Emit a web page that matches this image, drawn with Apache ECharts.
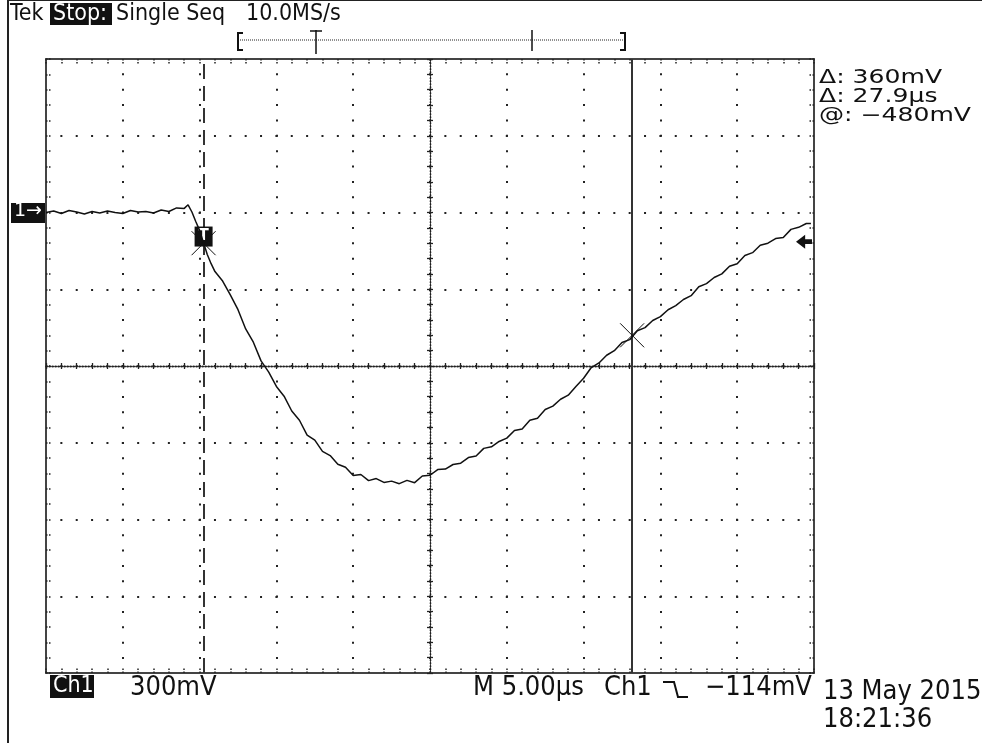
<!DOCTYPE html>
<html>
<head>
<meta charset="utf-8">
<script src="https://cdn.jsdelivr.net/npm/echarts@6/dist/echarts.min.js"></script>
<style>
    html, body { margin: 0; padding: 0; background: #fff; }
    #scope { width: 982px; height: 743px; }
</style>
</head>
<body>
<div id="scope"></div>
<script>
// time in µs (5 µs/div, 10 div)
const timeUs = [
    0, 0.5, 1, 1.5, 2, 2.5, 3, 3.5, 4, 4.5, 5, 5.5, 6, 6.5, 7, 7.5, 8, 8.5, 9, 9.25, 9.5, 9.75,
    10, 10.25, 10.5, 10.75, 11, 11.5, 12, 12.5, 13, 13.5, 14, 14.5, 15, 15.5, 16, 16.5, 17, 17.5,
    18, 18.5, 19, 19.5, 20, 20.5, 21, 21.5, 22, 22.5, 23, 23.5, 24, 24.5, 25, 25.5, 26, 26.5,
    27, 27.5, 28, 28.5, 29, 29.5, 30, 30.5, 31, 31.5, 32, 32.5, 33, 33.5, 34, 34.5, 35, 35.5,
    36, 36.5, 37, 37.5, 38, 38.5, 39, 39.5, 40, 40.5, 41, 41.5, 42, 42.5, 43, 43.5, 44, 44.5,
    45, 45.5, 46, 46.5, 47, 47.5, 48, 48.5, 49, 49.5, 49.8,
];
// Ch1 in mV relative to the "1→" ground marker (300 mV/div)
const ch1mV = [
    0, 6, -4, 8, 2, -6, 4, -2, 6, 0, -4, 8, 2, 4, -2, 10, 4, 18, 16, 30, 2, -35,
    -70, -117, -164, -200, -231, -268, -322, -380, -455, -507, -580, -624, -680, -718, -776, -812, -870, -890,
    -934, -950, -984, -996, -1028, -1024, -1048, -1040, -1055, -1050, -1060, -1047, -1056, -1030, -1027, -1005, -1003, -985,
    -980, -958, -952, -922, -916, -895, -882, -852, -846, -812, -804, -770, -757, -730, -714, -680, -648, -606,
    -588, -558, -540, -508, -497, -462, -450, -422, -407, -380, -364, -340, -325, -290, -278, -254, -240, -210,
    -200, -168, -157, -128, -120, -102, -98, -66, -58, -43, -43,
];
// cursors: [time µs, level mV]
const cursorA = [10.26, -120];
const cursorB = [38.16, -480];
const triggerLevel = -114;
const readouts = ["Δ: 360mV", "Δ: 27.9µs", "@: −480mV"];

const ink = "#111";
const gridInk = "#222";
const narrow = "'Liberation Sans Narrow', 'DejaVu Sans Condensed', sans-serif";
const wide = "'DejaVu Sans', sans-serif";

const dotted = { color: gridInk, width: 2, type: [2, 13.36], dashOffset: 1 };

const borderAxis = (extra) => Object.assign({
    type: "value",
    axisLine: { show: true, onZero: false, lineStyle: { color: "#444", width: 2 } },
    axisTick: { show: true, inside: true, length: 5, lineStyle: { color: gridInk, width: 1.5, type: [1.5, 1.5] } },
    minorTick: { show: true, splitNumber: 5, length: 5, lineStyle: { color: gridInk, width: 1.5, type: [1.5, 1.5] } },
    axisLabel: { show: false },
    splitLine: { show: false },
}, extra);

const centerAxis = (extra, inside) => Object.assign({
    type: "value",
    axisLine: { show: true, onZero: false, lineStyle: { color: gridInk, width: 1.3, type: [1.3, 1.7] } },
    axisTick: { show: true, inside, length: 3, lineStyle: { color: gridInk, width: 1.3 } },
    minorTick: { show: true, splitNumber: 5, length: 3, lineStyle: { color: gridInk, width: 1.3 } },
    axisLabel: { show: false },
    splitLine: { show: false },
}, extra);

const xRange = { min: 0, max: 50, interval: 5 };
const yRange = { min: -1800, max: 600, interval: 300 };

const txt = (left, top, text, size, font, color, sx) => ({
    type: "text",
    left,
    top,
    scaleX: sx || 1,
    silent: true,
    style: { text, fontSize: size, fontFamily: font || narrow, fill: color || ink },
});

const cross = "path://M0,0L10,10M10,0L0,10";

const option = {
    animation: false,
    backgroundColor: "#fff",
    grid: { left: 46, top: 59, width: 768, height: 614, show: false },
    xAxis: [
        borderAxis(Object.assign({ position: "bottom", splitLine: { show: true, lineStyle: dotted } }, xRange)),
        borderAxis(Object.assign({ position: "top" }, xRange)),
        centerAxis(Object.assign({ position: "bottom", offset: -307 }, xRange), true),
        centerAxis(Object.assign({ position: "bottom", offset: -307 }, xRange), false),
    ],
    yAxis: [
        borderAxis(Object.assign({ position: "left", splitLine: { show: true, lineStyle: dotted } }, yRange)),
        borderAxis(Object.assign({ position: "right" }, yRange)),
        centerAxis(Object.assign({ position: "left", offset: -384 }, yRange), true),
        centerAxis(Object.assign({ position: "left", offset: -384 }, yRange), false),
    ],
    series: [
        {
            type: "line",
            name: "Ch1",
            data: timeUs.map((t, i) => [t, ch1mV[i]]),
            showSymbol: false,
            lineStyle: { color: ink, width: 1.5 },
            z: 5,
            markLine: {
                silent: true,
                symbol: "none",
                label: { show: false },
                data: [
                    { xAxis: cursorA[0], lineStyle: { color: "#333", width: 2, type: [15, 7] } },
                    { xAxis: cursorB[0], lineStyle: { color: "#333", width: 2, type: "solid" } },
                ],
            },
            markPoint: {
                silent: true,
                data: [
                    {
                        coord: [cursorA[0], -94],
                        symbol: "rect",
                        symbolSize: [18, 20],
                        itemStyle: { color: ink },
                        label: { show: true, formatter: "T", color: "#fff", fontSize: 15, fontWeight: "bold", fontFamily: wide },
                    },
                    {
                        coord: cursorA,
                        symbol: cross,
                        symbolSize: 24,
                        itemStyle: { color: "none", borderColor: ink, borderWidth: 1 },
                        label: { show: false },
                    },
                    {
                        coord: cursorB,
                        symbol: cross,
                        symbolSize: 24,
                        itemStyle: { color: "none", borderColor: ink, borderWidth: 1 },
                        label: { show: false },
                    },
                    {
                        coord: [49.35, triggerLevel],
                        symbol: "path://M0,6L8,0L8,4L14,4L14,8L8,8L8,12Z",
                        symbolSize: [16, 14],
                        itemStyle: { color: ink },
                        label: { show: false },
                    },
                ],
            },
        },
    ],
    graphic: [
        // outer frame
        { type: "line", silent: true, shape: { x1: 8, y1: 0, x2: 8, y2: 743 }, style: { stroke: "#222", lineWidth: 2 } },
        { type: "line", silent: true, shape: { x1: 8, y1: 0.5, x2: 982, y2: 0.5 }, style: { stroke: "#222", lineWidth: 1 } },
        // header
        txt(10, 3, "Tek", 23),
        { type: "rect", silent: true, shape: { x: 50, y: 3, width: 62, height: 22 }, style: { fill: ink } },
        txt(53, 3, "Stop:", 23, null, "#fff"),
        txt(116, 3, "Single Seq", 23),
        txt(246, 3, "10.0MS/s", 23),
        // record bar
        { type: "polyline", silent: true, shape: { points: [[243, 33], [238, 33], [238, 50], [243, 50]] }, style: { stroke: ink, lineWidth: 2, fill: null } },
        { type: "line", silent: true, shape: { x1: 240, y1: 40, x2: 623, y2: 40 }, style: { stroke: gridInk, lineWidth: 1, lineDash: [1, 1] } },
        { type: "polyline", silent: true, shape: { points: [[620, 33], [625, 33], [625, 50], [620, 50]] }, style: { stroke: ink, lineWidth: 2, fill: null } },
        { type: "line", silent: true, shape: { x1: 316, y1: 30, x2: 316, y2: 54 }, style: { stroke: ink, lineWidth: 1.5 } },
        { type: "line", silent: true, shape: { x1: 310, y1: 31, x2: 322, y2: 31 }, style: { stroke: ink, lineWidth: 1.5 } },
        { type: "line", silent: true, shape: { x1: 532, y1: 30, x2: 532, y2: 51 }, style: { stroke: ink, lineWidth: 1.5 } },
        // channel ground marker
        { type: "rect", silent: true, shape: { x: 11, y: 203, width: 35, height: 20 }, style: { fill: ink } },
        txt(14, 202, "1→", 19, wide, "#fff"),
        // cursor readouts
        txt(819, 69, readouts[0], 19, wide, ink, 1.32),
        txt(819, 88, readouts[1], 19, wide, ink, 1.32),
        txt(819, 107, readouts[2], 19, wide, ink, 1.32),
        // footer
        { type: "rect", silent: true, shape: { x: 50, y: 675, width: 44, height: 23 }, style: { fill: ink } },
        txt(53, 675, "Ch1", 23, null, "#fff"),
        txt(130, 674, "300mV", 27),
        txt(473, 674, "M 5.00µs", 27),
        txt(604, 674, "Ch1", 27),
        { type: "polyline", silent: true, shape: { points: [[663, 682], [674, 682], [678, 697], [688, 697]] }, style: { stroke: ink, lineWidth: 2, fill: null } },
        txt(705, 674, "−114mV", 27),
        txt(823, 678, "13 May 2015", 27),
        txt(823, 706, "18:21:36", 27),
    ],
};

const chart = echarts.init(document.getElementById("scope"));
chart.setOption(option);
</script>
</body>
</html>
